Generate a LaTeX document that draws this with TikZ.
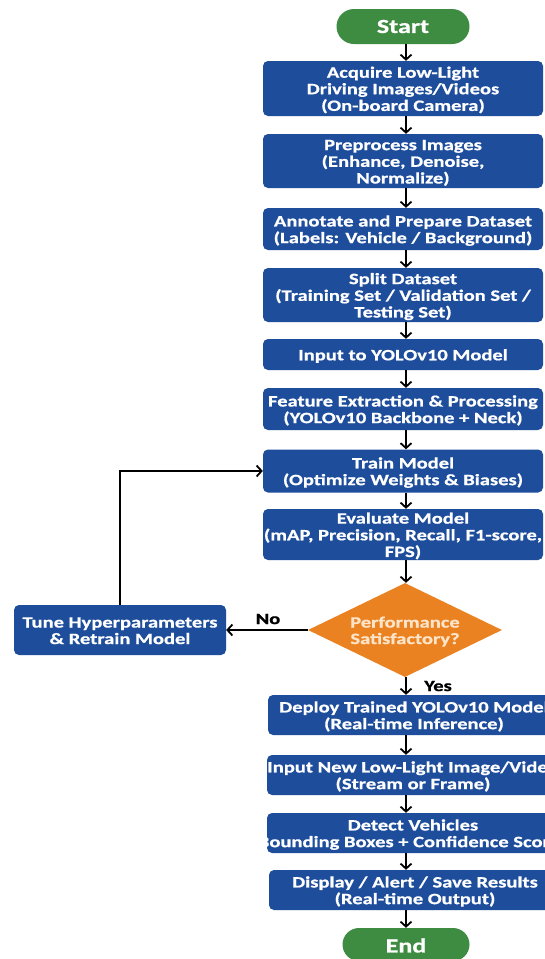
\documentclass[tikz,border=0pt]{standalone}
\usepackage{fontspec}
\setmainfont{Carlito}[FakeStretch=1.3, BoldFeatures={FakeBold=0.8}]
\usetikzlibrary{arrows.meta,shapes.geometric,shapes.misc}
\definecolor{boxblue}{RGB}{30,78,155}
\definecolor{termgreen}{RGB}{62,140,66}
\definecolor{decorange}{RGB}{234,130,34}
\definecolor{dectext}{RGB}{253,228,200}
\newcommand\ctr[1]{\hbox to 0pt{\hss\raisebox{-2.5pt}[\height][\depth]{\begin{tabular}{@{}c@{}}#1\end{tabular}}\hss}}
\tikzset{
  base/.style={inner sep=0pt, font=\bfseries\fontsize{15.8}{16.5}\selectfont},
  upbox/.style={base, rectangle, rounded corners=5pt, fill=boxblue, text=white, minimum width=280pt},
  lowbox/.style={base, rectangle, rounded corners=5pt, fill=boxblue, text=white, minimum width=292pt, minimum height=40pt},
  term/.style={base, rounded rectangle, fill=termgreen, text=white, font=\bfseries\fontsize{20}{22}\selectfont},
  decision/.style={base, diamond, aspect=2.08, fill=decorange, text=dectext, minimum width=194pt, minimum height=94pt},
  lbl/.style={base, text=black},
  arr/.style={line width=1.8pt, draw=black, -{Straight Barb[length=5pt,width=11pt,line width=1.8pt]}},
}
\begin{document}
\begin{tikzpicture}[x=1pt,y=-1pt]
\useasboundingbox (0,0) rectangle (544,959);
\fill[white] (0,0) rectangle (544,959);
\coordinate (ax) at (406,0);
\node[term, minimum width=133pt, minimum height=35pt] (start) at (403,26.5) {Start};
\node[upbox, minimum height=55pt] (acq) at (403,88.5) {\ctr{Acquire Low-Light\\Driving Images/Videos\\(On-board Camera)}};
\node[upbox, minimum height=54pt] (pre) at (403,161) {\ctr{Preprocess Images\\(Enhance, Denoise,\\Normalize)}};
\node[upbox, minimum height=42pt] (ann) at (403,229) {\ctr{Annotate and Prepare Dataset\\(Labels: Vehicle / Background)}};
\node[upbox, minimum height=54pt] (split) at (403,295) {\ctr{Split Dataset\\(Training Set / Validation Set /\\Testing Set)}};
\node[upbox, minimum height=31pt] (inp) at (403,354.5) {\ctr{Input to YOLOv10 Model}};
\node[upbox, minimum height=42pt] (feat) at (403,409) {\ctr{Feature Extraction \& Processing\\(YOLOv10 Backbone + Neck)}};
\node[upbox, minimum height=43pt] (train) at (403,471) {\ctr{Train Model\\(Optimize Weights \& Biases)}};
\node[upbox, minimum height=51pt] (eval) at (403,534.5) {\ctr{Evaluate Model\\(mAP, Precision, Recall, F1-score,\\FPS)}};
\node[decision] (dec) at (405,630) {\ctr{Performance\\Satisfactory?}};
\node[upbox, minimum width=212pt, minimum height=50pt] (tune) at (120,630) {\ctr{Tune Hyperparameters\\\& Retrain Model}};
\node[lowbox] (deploy) at (414,715) {\ctr{Deploy Trained YOLOv10 Model\\(Real-time Inference)}};
\node[lowbox] (newin) at (413,775) {\ctr{Input New Low-Light Image/Video\\(Stream or Frame)}};
\node[lowbox] (detect) at (413,833) {\ctr{Detect Vehicles\\(Bounding Boxes + Confidence Scores)}};
\node[lowbox] (disp) at (415,890) {\ctr{Display / Alert / Save Results\\(Real-time Output)}};
\node[term, minimum width=127pt, minimum height=33pt] (end) at (406,944.5) {\raisebox{-1pt}[\height][\depth]{End}};
\draw[arr] (start.south -| ax) -- (acq.north -| ax);
\draw[arr] (acq.south -| ax) -- (pre.north -| ax);
\draw[arr] (pre.south -| ax) -- (ann.north -| ax);
\draw[arr] (ann.south -| ax) -- (split.north -| ax);
\draw[arr] (split.south -| ax) -- (inp.north -| ax);
\draw[arr] (inp.south -| ax) -- (feat.north -| ax);
\draw[arr] (feat.south -| ax) -- (train.north -| ax);
\draw[arr] (train.south -| ax) -- (eval.north -| ax);
\draw[arr] (eval.south -| ax) -- (dec.north -| ax);
\draw[arr] (dec.south -| ax) -- (deploy.north -| ax);
\draw[arr] (deploy.south -| ax) -- (newin.north -| ax);
\draw[arr] (newin.south -| ax) -- (detect.north -| ax);
\draw[arr] (detect.south -| ax) -- (disp.north -| ax);
\draw[arr] (disp.south -| ax) -- (end.north -| ax);
\draw[arr] (dec.west) -- (tune.east |- dec.west);
\draw[arr] (tune.north) |- (train.west);
\node[lbl] (no) at (268,619) {No};
\node[lbl] (yes) at (438,686) {Yes};
\end{tikzpicture}
\end{document}
